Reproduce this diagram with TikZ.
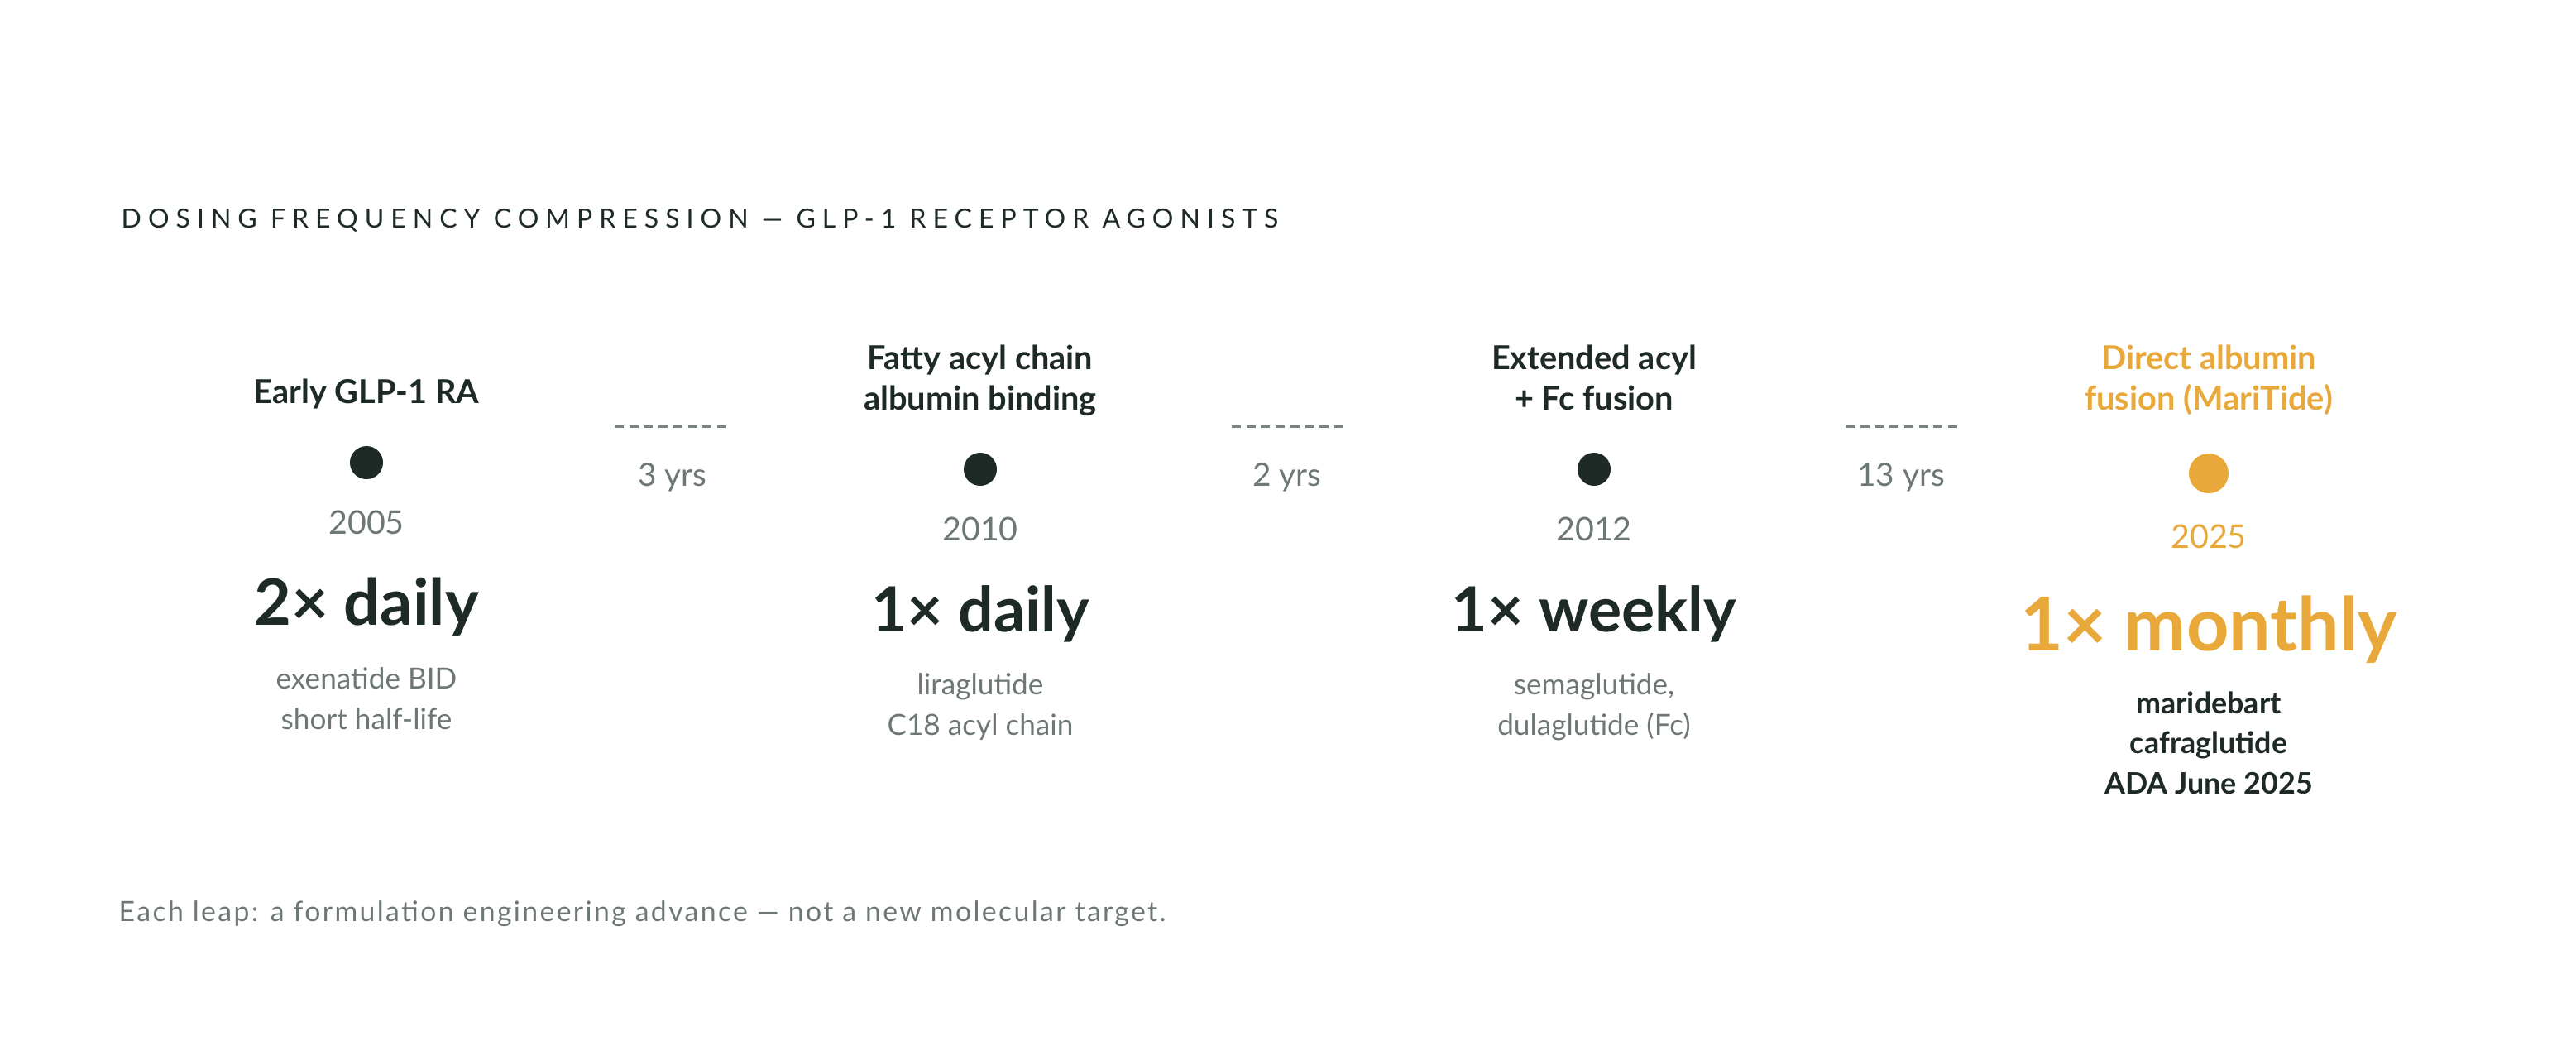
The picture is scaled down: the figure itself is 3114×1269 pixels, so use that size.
\documentclass[tikz,border=0pt]{standalone}
\usepackage{fontspec}
\usepackage{tikz}
\usetikzlibrary{positioning}
\setmainfont{Lato}
\newfontfamily\spacedfont{Lato}[LetterSpace=25]
\newfontfamily\footfont{Lato}[LetterSpace=7]
\definecolor{ink}{HTML}{1E2A25}
\definecolor{muted}{HTML}{6E7873}
\definecolor{amber}{HTML}{E8A83A}
\definecolor{dashgray}{HTML}{7A847F}
\tikzset{head/.style={align=center, anchor=base, text=#1,
            font=\bfseries\fontsize{11.3}{13.66}\selectfont},
         head/.default=ink,
         milestone/.style={circle, fill=#1, inner sep=0pt, minimum size=0.4cm},
         milestone/.default=ink,
         yearlbl/.style={anchor=base, text=#1, font=\fontsize{11.2}{13}\selectfont},
         yearlbl/.default=muted,
         freq/.style={anchor=base, text=ink, font=\bfseries\fontsize{21.4}{26}\selectfont},
         drug/.style={align=center, anchor=base, text=muted,
            font=\fontsize{10}{13.8}\selectfont},
         gaplbl/.style={anchor=base, text=muted, font=\fontsize{11}{13}\selectfont},
         leap/.style={draw=dashgray, line width=0.85pt, dash pattern=on 0.11cm off 0.067cm}}

\begin{document}
\begin{tikzpicture}[x=0.01cm, y=-0.01cm]
\useasboundingbox (0,0) rectangle (3114,1269);
\node [anchor=base west, inner sep=0pt, text=ink, font=\spacedfont\fontsize{9.1}{11}\selectfont]
    (title) at (146,275) {DOSING FREQUENCY COMPRESSION — GLP-1 RECEPTOR AGONISTS};
%
% early GLP-1 RA
\node [head] (head1) at (443,487) {Early GLP-1 RA};
\node [milestone] (dot1) at (443,559) {};
\node [yearlbl] (year1) at (443,645) {2005};
\node [freq, font=\bfseries\fontsize{22}{26}\selectfont] (freq1) at (443,755) {2× daily};
\node [drug] (drug1) at (443,881) {exenatide BID\\short half-life};
%
% fatty acyl chain
\node [head] (head2) at (1185,495) {Fatty acyl chain\\albumin binding};
\node [milestone] (dot2) at (1185,567) {};
\node [yearlbl] (year2) at (1185,653) {2010};
\node [freq] (freq2) at (1185,763) {1× daily};
\node [drug] (drug2) at (1185,888) {liraglutide\\C18 acyl chain};
%
% extended acyl + Fc
\node [head] (head3) at (1927,495) {Extended acyl\\+ Fc fusion};
\node [milestone] (dot3) at (1927,567) {};
\node [yearlbl] (year3) at (1927,653) {2012};
\node [freq] (freq3) at (1927,763) {1× weekly};
\node [drug] (drug3) at (1927,888) {semaglutide,\\dulaglutide (Fc)};
%
% MariTide
\node [head=amber] (head4) at (2670,495) {Direct albumin\\fusion (MariTide)};
\node [milestone=amber, minimum size=0.48cm] (dot4) at (2670,572) {};
\node [yearlbl=amber] (year4) at (2670,662) {2025};
\node [freq, text=amber, font=\bfseries\fontsize{25.5}{30}\selectfont] (freq4) at (2670,786) {1× monthly};
\node [drug, text=ink, font=\bfseries\fontsize{10.2}{13.66}\selectfont] (drug4) at (2670,959)
    {maridebart\\cafraglutide\\ADA June 2025};
%
% gaps between milestones
\coordinate (gap1a) at (743,515); \coordinate (gap1b) at (878,515);
\coordinate (gap2a) at (1489,515); \coordinate (gap2b) at (1624,515);
\coordinate (gap3a) at (2231,515); \coordinate (gap3b) at (2366,515);
\draw [leap] (gap1a) -- (gap1b);
\draw [leap] (gap2a) -- (gap2b);
\draw [leap] (gap3a) -- (gap3b);
\node [gaplbl] (gap1) at (813,587) {3 yrs};
\node [gaplbl] (gap2) at (1556,587) {2 yrs};
\node [gaplbl] (gap3) at (2298,587) {13 yrs};
%
\node [anchor=base west, inner sep=0pt, text=muted, font=\footfont\fontsize{9.6}{11}\selectfont]
    (footer) at (143,1113) {Each leap: a formulation engineering advance — not a new molecular target.};
\end{tikzpicture}
\end{document}
